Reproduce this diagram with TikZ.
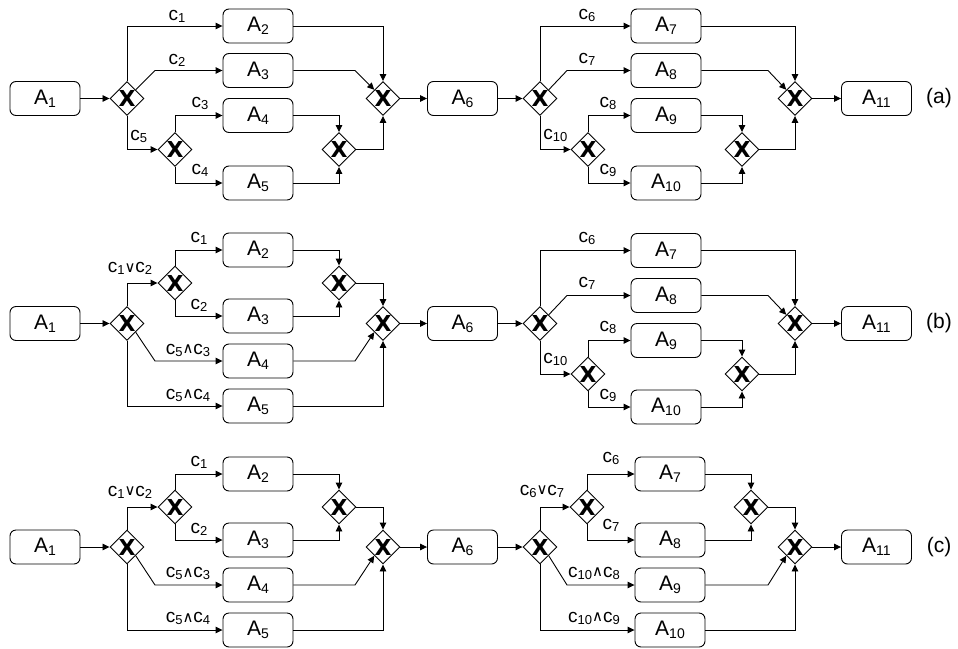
\documentclass[tikz,border=0pt]{standalone}
\usepackage{fontspec}
\setmainfont{Liberation Sans}
\newfontfamily\symfont{DejaVu Sans}
\usetikzlibrary{shapes.geometric,arrows.meta,calc}

% activity name with lowered index
\newcommand\Alab[1]{A\raisebox{-3pt}{\fontsize{14}{14}\selectfont #1}}
% condition name with lowered index
\newcommand\cc[1]{c\raisebox{-2pt}{\fontsize{13}{13}\selectfont #1}}
\newcommand\myor{{\symfont\fontsize{15}{15}\selectfont\raisebox{0.5pt}{∨}}}
\newcommand\myand{{\symfont\fontsize{15}{15}\selectfont\raisebox{0.5pt}{∧}}}

\begin{document}
\begin{tikzpicture}[x=1pt,y=-1pt,
  every node/.style={inner sep=0pt},
  task/.style={draw, rounded corners=6pt, minimum width=70pt, minimum height=34pt,
               font=\fontsize{21}{24}\selectfont},
  gate/.style={draw, diamond, minimum width=34pt, minimum height=34pt,
               font=\symfont\fontsize{22}{22}\selectfont\bfseries},
  flow/.style={-{Triangle[length=7pt,width=6.5pt]}},
  cond/.style={font=\fontsize{19}{20}\selectfont},
  tag/.style={font=\fontsize{21}{24}\selectfont},
  line width=0.9pt]
\useasboundingbox (0,0) rectangle (958,648);

% ---------------- (a) ----------------
\node[task] (a1) at (45,98.5) {\Alab{1}};
\node[gate] (ag1) at (127,98.5) {X};
\node[task] (a2) at (258,26) {\Alab{2}};
\node[task] (a3) at (258,70.5) {\Alab{3}};
\node[task] (a4) at (258,115.5) {\Alab{4}};
\node[task] (a5) at (258,183) {\Alab{5}};
\node[gate] (ag2) at (175,149.5) {X};
\node[gate] (ag3) at (339,149.5) {X};
\node[gate] (ag4) at (383,98.5) {X};
\node[task] (a6) at (462.5,98.5) {\Alab{6}};
\node[gate] (ag5) at (540,98.5) {X};
\node[task] (a7) at (666,26) {\Alab{7}};
\node[task] (a8) at (666,70.5) {\Alab{8}};
\node[task] (a9) at (666,115.5) {\Alab{9}};
\node[task] (a10) at (666,183) {\Alab{10}};
\node[gate] (ag6) at (588,149.5) {X};
\node[gate] (ag7) at (742,149.5) {X};
\node[gate] (ag8) at (795,98.5) {X};
\node[task] (a11) at (876.5,98.5) {\Alab{11}};
\node[tag] (ta) at (939,98.5) {(a)};

\draw[flow] (a1) -- (ag1);
\draw[flow] (ag1.north) |- (a2.west);
\draw[flow] (ag1.north east) -- ([xshift=28pt]ag1.center |- a3.west) -- (a3.west);
\draw[flow] (ag1.south) |- (ag2.west);
\draw[flow] (ag2.north) |- (a4.west);
\draw[flow] (ag2.south) |- (a5.west);
\draw[flow] (a4.east) -| (ag3.north);
\draw[flow] (a5.east) -| (ag3.south);
\draw[flow] (ag3.east) -| (ag4.south);
\draw[flow] (a2.east) -| (ag4.north);
\draw[flow] (a3.east) -- ([xshift=-28pt]ag4.center |- a3.east) -- (ag4.north west);
\draw[flow] (ag4) -- (a6);
\draw[flow] (a6) -- (ag5);
\draw[flow] (ag5.north) |- (a7.west);
\draw[flow] (ag5.north east) -- ([xshift=27pt]ag5.center |- a8.west) -- (a8.west);
\draw[flow] (ag5.south) |- (ag6.west);
\draw[flow] (ag6.north) |- (a9.west);
\draw[flow] (ag6.south) |- (a10.west);
\draw[flow] (a9.east) -| (ag7.north);
\draw[flow] (a10.east) -| (ag7.south);
\draw[flow] (ag7.east) -| (ag8.south);
\draw[flow] (a7.east) -| (ag8.north);
\draw[flow] (a8.east) -- ([xshift=-27pt]ag8.center |- a8.east) -- (ag8.north west);
\draw[flow] (ag8) -- (a11);

\node[cond,anchor=south] (ac1) at (177,23) {\cc{1}};
\node[cond,anchor=south] (ac2) at (177,67) {\cc{2}};
\node[cond,anchor=south west] (ac5) at (130,143) {\cc{5}};
\node[cond,anchor=south] (ac3) at (200,110) {\cc{3}};
\node[cond,anchor=south] (ac4) at (200,177) {\cc{4}};
\node[cond,anchor=south] (ac6) at (587,22) {\cc{6}};
\node[cond,anchor=south] (ac7) at (587,66) {\cc{7}};
\node[cond,anchor=south west] (ac10) at (543,142) {\cc{10}};
\node[cond,anchor=south] (ac8) at (608,110) {\cc{8}};
\node[cond,anchor=south] (ac9) at (608,177) {\cc{9}};

% ---------------- (b) ----------------
\node[task] (b1) at (45,323.5) {\Alab{1}};
\node[gate] (bg1) at (127,323.5) {X};
\node[gate] (bg2) at (175,283) {X};
\node[task] (b2) at (258,250) {\Alab{2}};
\node[task] (b3) at (258,316) {\Alab{3}};
\node[task] (b4) at (258,361) {\Alab{4}};
\node[task] (b5) at (258,406) {\Alab{5}};
\node[gate] (bg3) at (339,283) {X};
\node[gate] (bg4) at (383,323.5) {X};
\node[task] (b6) at (462.5,323.5) {\Alab{6}};
\node[gate] (bg5) at (540,323.5) {X};
\node[task] (b7) at (666,250.5) {\Alab{7}};
\node[task] (b8) at (666,295.5) {\Alab{8}};
\node[task] (b9) at (666,340.5) {\Alab{9}};
\node[task] (b10) at (666,407) {\Alab{10}};
\node[gate] (bg6) at (588,374) {X};
\node[gate] (bg7) at (742,374) {X};
\node[gate] (bg8) at (795,323.5) {X};
\node[task] (b11) at (876.5,323.5) {\Alab{11}};
\node[tag] (tb) at (939,323.5) {(b)};

\draw[flow] (b1) -- (bg1);
\draw[flow] (bg1.north) |- (bg2.west);
\draw[flow] (bg2.north) |- (b2.west);
\draw[flow] (bg2.south) |- (b3.west);
\draw[flow] (bg1.south east) -- ([xshift=28pt]bg1.center |- b4.west) -- (b4.west);
\draw[flow] (bg1.south) |- (b5.west);
\draw[flow] (b2.east) -| (bg3.north);
\draw[flow] (b3.east) -| (bg3.south);
\draw[flow] (bg3.east) -| (bg4.north);
\draw[flow] (b4.east) -- ([xshift=-28pt]bg4.center |- b4.east) -- (bg4.south west);
\draw[flow] (b5.east) -| (bg4.south);
\draw[flow] (bg4) -- (b6);
\draw[flow] (b6) -- (bg5);
\draw[flow] (bg5.north) |- (b7.west);
\draw[flow] (bg5.north east) -- ([xshift=27pt]bg5.center |- b8.west) -- (b8.west);
\draw[flow] (bg5.south) |- (bg6.west);
\draw[flow] (bg6.north) |- (b9.west);
\draw[flow] (bg6.south) |- (b10.west);
\draw[flow] (b9.east) -| (bg7.north);
\draw[flow] (b10.east) -| (bg7.south);
\draw[flow] (bg7.east) -| (bg8.south);
\draw[flow] (b7.east) -| (bg8.north);
\draw[flow] (b8.east) -- ([xshift=-27pt]bg8.center |- b8.east) -- (bg8.north west);
\draw[flow] (bg8) -- (b11);

\node[cond,anchor=south] (bc12) at (130,275) {\cc{1}\myor\cc{2}};
\node[cond,anchor=south] (bc1) at (199,245) {\cc{1}};
\node[cond,anchor=south] (bc2) at (199,312) {\cc{2}};
\node[cond,anchor=south] (bc53) at (188,357) {\cc{5}\myand\cc{3}};
\node[cond,anchor=south] (bc54) at (188,402) {\cc{5}\myand\cc{4}};
\node[cond,anchor=south] (bc6) at (587,245) {\cc{6}};
\node[cond,anchor=south] (bc7) at (587,290) {\cc{7}};
\node[cond,anchor=south west] (bc10) at (543,366) {\cc{10}};
\node[cond,anchor=south] (bc8) at (608,334) {\cc{8}};
\node[cond,anchor=south] (bc9) at (608,402) {\cc{9}};

% ---------------- (c) ----------------
\node[task] (c1) at (45,547) {\Alab{1}};
\node[gate] (cg1) at (127,547) {X};
\node[gate] (cg2) at (175,507) {X};
\node[task] (c2) at (258,474) {\Alab{2}};
\node[task] (c3) at (258,540) {\Alab{3}};
\node[task] (c4) at (258,585) {\Alab{4}};
\node[task] (c5) at (258,630) {\Alab{5}};
\node[gate] (cg3) at (339,507) {X};
\node[gate] (cg4) at (383,547) {X};
\node[task] (c6) at (462.5,547) {\Alab{6}};
\node[gate] (cg5) at (540,547) {X};
\node[gate] (cg6) at (587,507) {X};
\node[task] (c7) at (670,474) {\Alab{7}};
\node[task] (c8) at (670,540) {\Alab{8}};
\node[task] (c9) at (670,585) {\Alab{9}};
\node[task] (c10) at (670,630) {\Alab{10}};
\node[gate] (cg7) at (751,507) {X};
\node[gate] (cg8) at (795,547) {X};
\node[task] (c11) at (876.5,547) {\Alab{11}};
\node[tag] (tc) at (939,547) {(c)};

\draw[flow] (c1) -- (cg1);
\draw[flow] (cg1.north) |- (cg2.west);
\draw[flow] (cg2.north) |- (c2.west);
\draw[flow] (cg2.south) |- (c3.west);
\draw[flow] (cg1.south east) -- ([xshift=28pt]cg1.center |- c4.west) -- (c4.west);
\draw[flow] (cg1.south) |- (c5.west);
\draw[flow] (c2.east) -| (cg3.north);
\draw[flow] (c3.east) -| (cg3.south);
\draw[flow] (cg3.east) -| (cg4.north);
\draw[flow] (c4.east) -- ([xshift=-28pt]cg4.center |- c4.east) -- (cg4.south west);
\draw[flow] (c5.east) -| (cg4.south);
\draw[flow] (cg4) -- (c6);
\draw[flow] (c6) -- (cg5);
\draw[flow] (cg5.north) |- (cg6.west);
\draw[flow] (cg6.north) |- (c7.west);
\draw[flow] (cg6.south) |- (c8.west);
\draw[flow] (cg5.south east) -- ([xshift=27pt]cg5.center |- c9.west) -- (c9.west);
\draw[flow] (cg5.south) |- (c10.west);
\draw[flow] (c7.east) -| (cg7.north);
\draw[flow] (c8.east) -| (cg7.south);
\draw[flow] (cg7.east) -| (cg8.north);
\draw[flow] (c9.east) -- ([xshift=-27pt]cg8.center |- c9.east) -- (cg8.south west);
\draw[flow] (c10.east) -| (cg8.south);
\draw[flow] (cg8) -- (c11);

\node[cond,anchor=south] (cc12) at (130,498.5) {\cc{1}\myor\cc{2}};
\node[cond,anchor=south] (cc1) at (199,468.5) {\cc{1}};
\node[cond,anchor=south] (cc2) at (199,535.5) {\cc{2}};
\node[cond,anchor=south] (cc53) at (188,580.5) {\cc{5}\myand\cc{3}};
\node[cond,anchor=south] (cc54) at (188,625.5) {\cc{5}\myand\cc{4}};
\node[cond,anchor=south] (cc67) at (542,498) {\cc{6}\myor\cc{7}};
\node[cond,anchor=south] (cc6) at (611,465) {\cc{6}};
\node[cond,anchor=south] (cc7) at (611,532) {\cc{7}};
\node[cond,anchor=south] (cc108) at (594,580) {\cc{10}\myand\cc{8}};
\node[cond,anchor=south] (cc109) at (594,625) {\cc{10}\myand\cc{9}};
\end{tikzpicture}
\end{document}
